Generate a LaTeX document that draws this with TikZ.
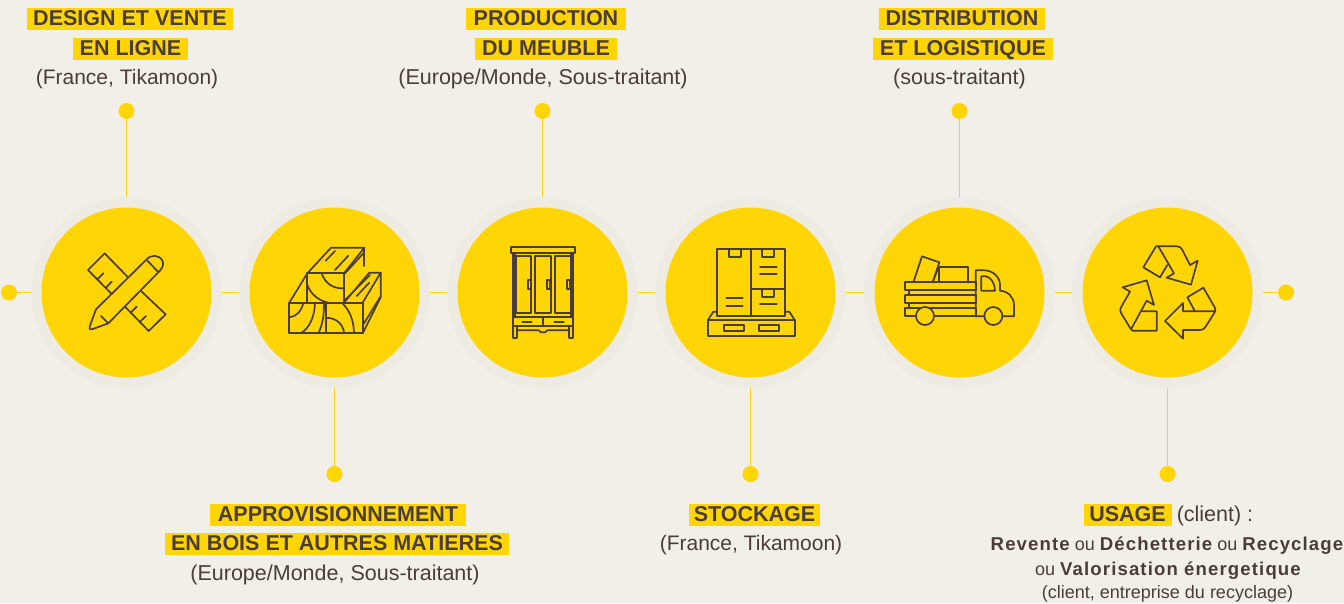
\documentclass[tikz,border=0pt]{standalone}
\usepackage{fontspec}
\setmainfont{Liberation Sans}
\newfontfamily\widebold[LetterSpace=6,Ligatures=NoCommon]{Liberation Sans}
\newcommand{\wb}[1]{{\fontsize{18.6}{20}\widebold\bfseries #1}}
\definecolor{bgc}{HTML}{F2EFE9}
\definecolor{haloc}{HTML}{EEEBE2}
\definecolor{yel}{HTML}{FFD505}
\definecolor{ink}{HTML}{4A3D39}
\tikzset{
  halo/.style={circle,fill=haloc,minimum size=191pt,inner sep=0pt},
  disc/.style={circle,fill=yel,minimum size=170pt,inner sep=0pt},
  dot/.style={circle,fill=yel,minimum size=16pt,inner sep=0pt},
  link/.style={draw=yel,line width=1pt},
  hl/.style={fill=yel,minimum width=#1,inner sep=0pt,text height=17pt,text depth=5pt,anchor=base,text=ink,font=\fontsize{21.5}{24}\selectfont\bfseries},
  reg/.style={anchor=base,inner sep=0pt,text=ink,font=\fontsize{21.5}{24}\selectfont},
  regb/.style={anchor=base,inner sep=0pt,text=ink,font=\fontsize{21}{24}\selectfont},
  small/.style={anchor=base,inner sep=0pt,text=ink,font=\fontsize{18}{20}\selectfont},
  ic/.style={draw=ink,line width=1.7pt,line join=round,line cap=round},
  zc/.style={x=0.33333pt,y=-0.33333pt},
}
\begin{document}
\begin{tikzpicture}[x=1pt,y=-1pt]
\useasboundingbox[fill=bgc] (0,0) rectangle (1344,603);
% nodes
\foreach \n/\x in {1/126.5,2/334.5,3/542.5,4/750.5,5/959.5,6/1167.5}{
  \node[halo] (h\n) at (\x,292.5) {};
}
\node[dot] (dl) at (9,292.5) {};
\node[dot] (dr) at (1286,292.5) {};
\node[dot] (d1) at (126.5,111) {};
\node[dot] (d3) at (542.5,111) {};
\node[dot] (d5) at (959.5,111) {};
\node[dot] (d2) at (334.5,474) {};
\node[dot] (d4) at (750.5,474) {};
\node[dot] (d6) at (1167.5,474) {};
% links
\draw[link] (dl)--(h1);
\draw[link] (h1)--(h2);
\draw[link] (h2)--(h3);
\draw[link] (h3)--(h4);
\draw[link] (h4)--(h5);
\draw[link] (h5)--(h6);
\draw[link] (h6)--(dr);
\draw[link] (d1)--(h1);
\draw[link] (d3)--(h3);
\draw[link] (d5)--(h5);
\draw[link] (d2)--(h2);
\draw[link] (d4)--(h4);
\draw[link] (d6)--(h6);
\foreach \n/\x in {1/126.5,2/334.5,3/542.5,4/750.5,5/959.5,6/1167.5}{
  \node[disc] (c\n) at (\x,292.5) {};
}
% icon 1 : ruler and pencil
\begin{scope}[shift={(20,190)},zc]
\draw[ic] (322,260)--(254,190)--(204,240)--(275,312);
\draw[ic] (363,303)--(437,373)--(386,423)--(317,352);
\draw[ic] (232,268)--(250,250) (258,293)--(275,275) (332,368)--(350,350) (360,395)--(378,378);
\draw[ic] (228,358)--(378,210) .. controls (392,193) and (418,192) .. (428,214) .. controls (433,226) and (425,238) .. (412,250)--(265,400)--(216,418) .. controls (210,420) and (207,416) .. (209,410)--cycle;
\draw[ic] (382,212)--(414,245) (243,378)--(265,400);
\end{scope}
% icon 2 : wood
\begin{scope}[shift={(20,190)},zc]
\draw[ic] (808,338) rectangle (917,430);
\draw[ic] (919,338) rectangle (1028,430);
\draw[ic] (862,250) rectangle (972,338);
\draw[ic] (808,338)--(862,250)--(933,173)--(1033,173)--(972,250);
\draw[ic] (1033,173)--(1033,228);
\draw[ic] (972,338)--(1048,248)--(1082,248)--(1028,338);
\draw[ic] (1082,248)--(1082,322)--(1028,430);
\draw[ic] (905,250) .. controls (915,280) and (940,297) .. (972,295);
\draw[ic] (862,285) .. controls (872,312) and (895,332) .. (925,338);
\draw[ic] (808,382) .. controls (830,380) and (845,362) .. (850,338);
\draw[ic] (842,430) .. controls (868,415) and (884,380) .. (885,338);
\draw[ic] (895,430) .. controls (908,405) and (913,370) .. (912,338);
\draw[ic] (919,384) .. controls (948,382) and (972,405) .. (972,430);
\draw[ic] (965,338) .. controls (990,360) and (1002,395) .. (1002,430);
\draw[ic] (917,212)--(945,183) (945,240)--(985,197) (975,250)--(1030,190);
\draw[ic] (975,330)--(1050,255) (1010,318)--(1048,278) (1032,400)--(1080,322);
\end{scope}
% icon 3 : wardrobe
\begin{scope}[shift={(440,190)},zc]
\draw[ic] (214,171) rectangle (405,189);
\draw[ic] (218,189)--(218,445)--(230,445)--(230,408);
\draw[ic] (400,189)--(400,445)--(388,445)--(388,408);
\draw[ic] (225,189)--(225,380) (393,189)--(393,380);
\draw[ic] (228,198) rectangle (274,369);
\draw[ic] (285,198) rectangle (334,369);
\draw[ic] (344,198) rectangle (392,369);
\draw[ic] (263,270) rectangle (272,297);
\draw[ic] (322,270) rectangle (331,297);
\draw[ic] (380,270) rectangle (389,297);
\draw[ic] (218,380)--(400,380);
\draw[ic] (218,408)--(400,408);
\draw[ic] (309,384)--(309,408);
\draw[ic] (247,396)--(275,396) (343,396)--(371,396);
\draw[ic] (230,421)--(296,421)--(303,427)--(315,427)--(322,421)--(388,421);
\end{scope}
% icon 4 : pallet
\begin{scope}[shift={(440,190)},zc]
\draw[ic] (832,177) rectangle (1036,377);
\draw[ic] (934,177)--(934,377) (934,297)--(1036,297);
\draw[ic] (867,177)--(867,200)--(903,200)--(903,177);
\draw[ic] (967,177)--(967,200)--(1003,200)--(1003,177);
\draw[ic] (967,297)--(967,321)--(1003,321)--(1003,297);
\draw[ic] (960,232)--(1010,232) (960,252)--(1010,252) (960,342)--(1010,342);
\draw[ic] (859,324)--(908,324) (859,347)--(908,347);
\draw[ic] (832,365)--(820,365)--(804,390)--(1064,390)--(1048,365)--(1036,365);
\draw[ic] (804,390) rectangle (1064,438);
\draw[ic] (851,405) rectangle (913,424);
\draw[ic] (956,405) rectangle (1018,424);
\end{scope}
% icon 5 : truck
\begin{scope}[shift={(860,190)},zc]
\draw[ic] (160,277)--(186,199)--(238,217)--(218,277);
\draw[ic] (218,277)--(233,238);
\draw[ic] (237,277)--(237,231)--(325,231)--(325,277);
\draw[ic] (136,277) rectangle (347,300);
\draw[ic] (136,316) rectangle (347,340);
\draw[ic] (136,355) rectangle (347,379);
\draw[ic] (146,300)--(146,316) (146,340)--(146,355);
\draw[ic] (347,379)--(347,241)--(372,241) .. controls (400,241) and (420,262) .. (420,285)--(420,302) .. controls (445,304) and (462,322) .. (462,345)--(462,379)--(347,379);
\draw[ic] (364,259)--(378,259) .. controls (393,262) and (405,280) .. (405,302)--(364,302)--cycle;
\filldraw[ic,fill=yel] (195,378) circle[radius=27];
\filldraw[ic,fill=yel] (400,378) circle[radius=27];
\end{scope}
% icon 6 : recycling
\begin{scope}[shift={(860,190)},zc]
\draw[ic] (922,225)--(900,262)--(850,232)--(888,169)--(895,169);
\draw[ic] (895,169)--(950,169) .. controls (958,169) and (962,172) .. (966,178)--(990,225)--(1013,212)--(993,284)--(920,263)--(942,250)--cycle;
\draw[ic] (813,418)--(860,332)--(882,345)--(860,271)--(788,292)--(810,305)--(783,352) .. controls (780,358) and (780,364) .. (783,369)--cycle;
\draw[ic] (847,364)--(890,364)--(890,422)--(818,422)--(813,418);
\draw[ic] (1005,364)--(982,322)--(1030,293)--(1064,352) .. controls (1067,358) and (1067,362) .. (1064,367)--(1037,410) .. controls (1033,417) and (1028,420) .. (1020,420)--(969,420)--(969,446)--(915,393)--(969,339)--(969,364)--(1062,364);
\end{scope}
% labels
\node[hl=206pt] (t1a) at (130,25) {DESIGN ET VENTE};
\node[hl=115pt] (t1b) at (130.5,55) {EN LIGNE};
\node[regb] (t1c) at (127,84) {(France, Tikamoon)};
\node[hl=160pt] (t3a) at (546,25) {PRODUCTION};
\node[hl=142pt] (t3b) at (546,55) {DU MEUBLE};
\node[reg] (t3c) at (543,84) {(Europe/Monde, Sous-traitant)};
\node[hl=166pt] (t5a) at (962,25) {DISTRIBUTION};
\node[hl=180pt] (t5b) at (963,55) {ET LOGISTIQUE};
\node[reg] (t5c) at (959.5,84) {(sous-traitant)};
\node[hl=256pt] (t2a) at (338,521) {APPROVISIONNEMENT};
\node[hl=344pt] (t2b) at (337,550) {EN BOIS ET AUTRES MATIERES};
\node[reg] (t2c) at (335,580) {(Europe/Monde, Sous-traitant)};
\node[hl=131pt] (t4a) at (754.5,521) {STOCKAGE};
\node[regb] (t4c) at (751,550) {(France, Tikamoon)};
\node[hl=88pt] (t6a) at (1127.5,521) {USAGE};
\node[reg] (t6b) at (1215,521) {(client) :};
\node[small] (t6c) at (1167,550) {\wb{Revente} ou \wb{Déchetterie} ou \wb{Recyclage}};
\node[small] (t6d) at (1168,575) {ou \wb{Valorisation énergetique}};
\node[small] (t6e) at (1167.5,598) {(client, entreprise du recyclage)};
\end{tikzpicture}
\end{document}
